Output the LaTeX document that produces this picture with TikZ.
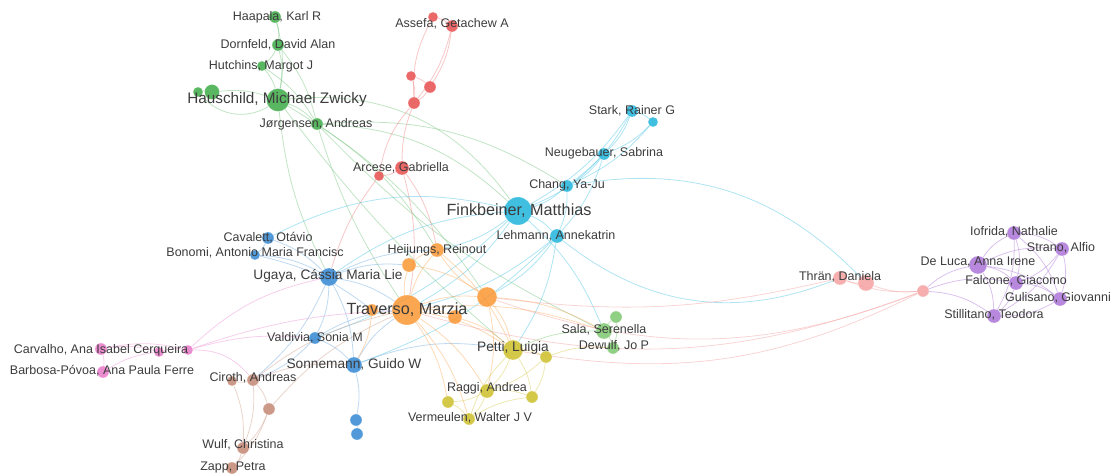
\documentclass[tikz,border=0pt]{standalone}
\usepackage{fontspec}
\setmainfont{Liberation Sans}
\usepackage{tikz}
\usetikzlibrary{backgrounds}

\definecolor{cgreen}{RGB}{60,170,70}
\definecolor{cred}{RGB}{232,78,78}
\definecolor{ccyan}{RGB}{30,180,220}
\definecolor{cblue}{RGB}{50,135,210}
\definecolor{corange}{RGB}{250,150,50}
\definecolor{cyellow}{RGB}{205,190,40}
\definecolor{clgreen}{RGB}{125,200,110}
\definecolor{cpink}{RGB}{232,120,200}
\definecolor{cbrown}{RGB}{195,135,115}
\definecolor{csalmon}{RGB}{245,160,160}
\definecolor{cpurple}{RGB}{170,115,215}
\definecolor{labelgray}{RGB}{60,60,60}

\newcommand{\smallname}{\fontsize{12.5}{14}\selectfont}
\newcommand{\midname}{\fontsize{13.7}{15}\selectfont}
\newcommand{\bigname}{\fontsize{16.2}{18}\selectfont}

\begin{document}
\begin{tikzpicture}[x=1pt,y=1pt]
    \tikzstyle{author}=[circle,inner sep=0pt,fill opacity=.85,draw=white,draw opacity=.5,line width=.4pt]
    \tikzstyle{authorname}=[inner sep=0pt,text=labelgray,font=\smallname]
    \tikzstyle{link}=[line width=.8pt,draw opacity=.45]
    \tikzstyle{glink}=[link,draw=cgreen!70]
    \tikzstyle{rlink}=[link,draw=cred!70]
    \tikzstyle{clink}=[link,draw=ccyan!80]
    \tikzstyle{blink}=[link,draw=cblue!70]
    \tikzstyle{olink}=[link,draw=corange!80]
    \tikzstyle{ylink}=[link,draw=cyellow!80]
    \tikzstyle{pklink}=[link,draw=cpink!80]
    \tikzstyle{brlink}=[link,draw=cbrown!80]
    \tikzstyle{slink}=[link,draw=csalmon]
    \tikzstyle{plink}=[link,draw=cpurple!80,draw opacity=.55]
    \useasboundingbox (0,0) rectangle (1112,-476);

    % green cluster
    \node[author,fill=cgreen,minimum size=12pt] (haapala) at (275,-17) {};
    \node[author,fill=cgreen,minimum size=12pt] (dornfeld) at (278,-45) {};
    \node[author,fill=cgreen,minimum size=10pt] (hutchins) at (262,-66) {};
    \node[author,fill=cgreen,minimum size=10pt] (gA) at (198,-92) {};
    \node[author,fill=cgreen,minimum size=15pt] (gB) at (212,-92) {};
    \node[author,fill=cgreen,minimum size=23pt] (hauschild) at (278,-100) {};
    \node[author,fill=cgreen,minimum size=12pt] (jorgensen) at (317,-124) {};
    % red cluster
    \node[author,fill=cred,minimum size=10pt] (assefaA) at (433,-17) {};
    \node[author,fill=cred,minimum size=12pt] (assefa) at (452,-26) {};
    \node[author,fill=cred,minimum size=10pt] (rA) at (411,-76) {};
    \node[author,fill=cred,minimum size=12pt] (rB) at (430,-87) {};
    \node[author,fill=cred,minimum size=12pt] (rC) at (414,-103) {};
    \node[author,fill=cred,minimum size=14pt] (arcese) at (402,-168) {};
    \node[author,fill=cred,minimum size=10pt] (rD) at (379,-176) {};
    % cyan cluster
    \node[author,fill=ccyan,minimum size=12pt] (stark) at (632,-111) {};
    \node[author,fill=ccyan,minimum size=10pt] (cA) at (653,-122) {};
    \node[author,fill=ccyan,minimum size=12pt] (neugebauer) at (604,-154) {};
    \node[author,fill=ccyan,minimum size=12pt] (chang) at (567,-186) {};
    \node[author,fill=ccyan,minimum size=28pt] (finkbeiner) at (518,-211) {};
    \node[author,fill=ccyan,minimum size=14pt] (lehmann) at (557,-236) {};
    % blue cluster
    \node[author,fill=cblue,minimum size=12pt] (cavalett) at (268,-238) {};
    \node[author,fill=cblue,minimum size=10pt] (bonomi) at (255,-255) {};
    \node[author,fill=cblue,minimum size=18pt] (ugaya) at (329,-277) {};
    \node[author,fill=cblue,minimum size=12pt] (valdivia) at (315,-338) {};
    \node[author,fill=cblue,minimum size=16pt] (sonnemann) at (354,-365) {};
    \node[author,fill=cblue,minimum size=12pt] (bA) at (356,-420) {};
    \node[author,fill=cblue,minimum size=12pt] (bB) at (357,-434) {};
    % orange cluster
    \node[author,fill=corange,minimum size=30pt] (traverso) at (407,-310) {};
    \node[author,fill=corange,minimum size=14pt] (heijungs) at (437,-250) {};
    \node[author,fill=corange,minimum size=14pt] (oA) at (409,-265) {};
    \node[author,fill=corange,minimum size=12pt] (oB) at (372,-310) {};
    \node[author,fill=corange,minimum size=14pt] (oC) at (455,-317) {};
    \node[author,fill=corange,minimum size=20pt] (oD) at (487,-297) {};
    % yellow cluster
    \node[author,fill=cyellow,minimum size=20pt] (petti) at (513,-350) {};
    \node[author,fill=cyellow,minimum size=12pt] (yA) at (546,-357) {};
    \node[author,fill=cyellow,minimum size=14pt] (raggi) at (487,-391) {};
    \node[author,fill=cyellow,minimum size=12pt] (yB) at (532,-397) {};
    \node[author,fill=cyellow,minimum size=12pt] (yC) at (448,-402) {};
    \node[author,fill=cyellow,minimum size=12pt] (vermeulen) at (469,-419) {};
    % light green cluster
    \node[author,fill=clgreen,minimum size=16pt] (sala) at (604,-331) {};
    \node[author,fill=clgreen,minimum size=12pt] (lgA) at (616,-317) {};
    \node[author,fill=clgreen,minimum size=12pt] (dewulf) at (613,-348) {};
    % pink cluster
    \node[author,fill=cpink,minimum size=12pt] (carvalho) at (101,-349) {};
    \node[author,fill=cpink,minimum size=10pt] (pA) at (159,-352) {};
    \node[author,fill=cpink,minimum size=10pt] (pB) at (188,-350) {};
    \node[author,fill=cpink,minimum size=12pt] (barbosa) at (103,-372) {};
    % brown cluster
    \node[author,fill=cbrown,minimum size=12pt] (ciroth) at (253,-380) {};
    \node[author,fill=cbrown,minimum size=10pt] (brA) at (232,-381) {};
    \node[author,fill=cbrown,minimum size=12pt] (brB) at (269,-409) {};
    \node[author,fill=cbrown,minimum size=12pt] (wulf) at (243,-448) {};
    \node[author,fill=cbrown,minimum size=12pt] (zapp) at (232,-468) {};
    % salmon cluster
    \node[author,fill=csalmon,minimum size=14pt] (thran) at (840,-278) {};
    \node[author,fill=csalmon,minimum size=16pt] (sA) at (866,-283) {};
    \node[author,fill=csalmon,minimum size=12pt] (sB) at (923,-291) {};
    % purple cluster
    \node[author,fill=cpurple,minimum size=18pt] (deluca) at (978,-265) {};
    \node[author,fill=cpurple,minimum size=14pt] (iofrida) at (1014,-233) {};
    \node[author,fill=cpurple,minimum size=14pt] (strano) at (1062,-249) {};
    \node[author,fill=cpurple,minimum size=14pt] (falcone) at (1016,-283) {};
    \node[author,fill=cpurple,minimum size=14pt] (gulisano) at (1060,-299) {};
    \node[author,fill=cpurple,minimum size=14pt] (stillitano) at (994,-316) {};

    % labels
    \node[authorname] (haapala-l) at (277,-17) {Haapala, Karl R};
    \node[authorname] (dornfeld-l) at (278,-45) {Dornfeld, David Alan};
    \node[authorname] (hutchins-l) at (261,-66) {Hutchins, Margot J};
    \node[authorname,font=\fontsize{15.3}{17}\selectfont] (hauschild-l) at (277,-100) {Hauschild, Michael Zwicky};
    \node[authorname] (jorgensen-l) at (316,-124) {Jørgensen, Andreas};
    \node[authorname] (assefa-l) at (452,-24) {Assefa, Getachew A};
    \node[authorname] (arcese-l) at (401,-168) {Arcese, Gabriella};
    \node[authorname] (stark-l) at (632,-111) {Stark, Rainer G};
    \node[authorname] (neugebauer-l) at (604,-153) {Neugebauer, Sabrina};
    \node[authorname] (chang-l) at (567,-185) {Chang, Ya-Ju};
    \node[authorname,font=\bigname] (finkbeiner-l) at (519,-211) {Finkbeiner, Matthias};
    \node[authorname] (lehmann-l) at (556,-236) {Lehmann, Annekatrin};
    \node[authorname] (cavalett-l) at (268,-238) {Cavalett, Otávio};
    \node[authorname] (bonomi-l) at (255,-253) {Bonomi, Antonio Maria Francisc};
    \node[authorname,font=\midname] (ugaya-l) at (328,-276) {Ugaya, Cássia Maria Lie};
    \node[authorname] (valdivia-l) at (315,-338) {Valdivia, Sonia M};
    \node[authorname,font=\midname] (sonnemann-l) at (354,-364) {Sonnemann, Guido W};
    \node[authorname] (heijungs-l) at (437,-250) {Heijungs, Reinout};
    \node[authorname,font=\bigname] (traverso-l) at (407,-310) {Traverso, Marzia};
    \node[authorname,font=\midname] (petti-l) at (513,-348) {Petti, Luigia};
    \node[authorname] (raggi-l) at (487,-388) {Raggi, Andrea};
    \node[authorname] (vermeulen-l) at (470,-418) {Vermeulen, Walter J V};
    \node[authorname] (sala-l) at (604,-330) {Sala, Serenella};
    \node[authorname] (dewulf-l) at (614,-346) {Dewulf, Jo P};
    \node[authorname] (carvalho-l) at (101,-350) {Carvalho, Ana Isabel Cerqueira};
    \node[authorname] (barbosa-l) at (102,-371) {Barbosa-Póvoa, Ana Paula Ferre};
    \node[authorname] (ciroth-l) at (253,-378) {Ciroth, Andreas};
    \node[authorname] (wulf-l) at (243,-445) {Wulf, Christina};
    \node[authorname] (zapp-l) at (233,-467) {Zapp, Petra};
    \node[authorname] (thran-l) at (840,-277) {Thrän, Daniela};
    \node[authorname] (deluca-l) at (978,-262) {De Luca, Anna Irene};
    \node[authorname] (iofrida-l) at (1014,-232) {Iofrida, Nathalie};
    \node[authorname] (strano-l) at (1061,-248) {Strano, Alfio};
    \node[authorname] (falcone-l) at (1016,-281) {Falcone, Giacomo};
    \node[authorname] (gulisano-l) at (1058,-298) {Gulisano, Giovanni};
    \node[authorname] (stillitano-l) at (994,-315) {Stillitano, Teodora};

    \begin{pgfonlayer}{background}
    % green links
    \foreach \a/\b in {haapala/dornfeld,dornfeld/hutchins,hutchins/hauschild,haapala/hauschild,dornfeld/hauschild,hutchins/jorgensen,dornfeld/jorgensen,hauschild/jorgensen,gA/gB,gB/hauschild,jorgensen/heijungs,hauschild/oD}
      \draw[glink] (\a) to[bend left=12] (\b);
    \draw[glink] (gA) to[bend right=40] (hauschild);
    \draw[glink] (hauschild) to[bend left=30] (finkbeiner);
    \draw[glink] (jorgensen) to[bend left=20] (finkbeiner);
    \draw[glink] (jorgensen) to[bend left=18] (chang);
    \draw[glink] (jorgensen) to[bend right=8] (traverso);
    \draw[glink] (hauschild) to[bend right=10] (ugaya);
    \draw[glink] (hauschild) to[bend right=6] (petti);
    \draw[glink] (jorgensen) to[bend right=10] (sala);
    % red links
    \foreach \a/\b in {assefaA/assefa,assefa/rB,assefa/rC,rA/rB,rA/rC,rB/rC,arcese/rD,arcese/heijungs,arcese/traverso}
      \draw[rlink] (\a) to[bend left=12] (\b);
    \draw[rlink] (assefaA) to[bend right=15] (rC);
    \draw[rlink] (rC) to[bend right=10] (arcese);
    \draw[rlink] (rC) to[bend right=15] (rD);
    \draw[rlink] (rD) to[bend right=10] (ugaya);
    % cyan links
    \foreach \a/\b in {stark/cA,stark/neugebauer,cA/neugebauer,stark/chang,cA/chang,neugebauer/chang,neugebauer/finkbeiner,chang/finkbeiner,finkbeiner/lehmann,chang/lehmann,neugebauer/lehmann,stark/finkbeiner,finkbeiner/traverso,finkbeiner/heijungs,lehmann/traverso,lehmann/petti,lehmann/oD,finkbeiner/sala,lehmann/sonnemann,finkbeiner/valdivia}
      \draw[clink] (\a) to[bend left=12] (\b);
    \draw[clink] (cavalett) to[bend left=20] (finkbeiner);
    \draw[clink] (ugaya) to[bend left=15] (finkbeiner);
    \draw[clink] (chang) to[bend left=28] (sA);
    \draw[clink] (lehmann) to[bend right=30] (thran);
    % blue links
    \foreach \a/\b in {cavalett/bonomi,cavalett/ugaya,bonomi/ugaya,ugaya/valdivia,ugaya/sonnemann,valdivia/sonnemann,sonnemann/bA,bA/bB,ugaya/traverso,ugaya/heijungs,ugaya/oA,sonnemann/traverso,valdivia/traverso,valdivia/ciroth,ugaya/ciroth,bonomi/oB}
      \draw[blink] (\a) to[bend left=12] (\b);
    \draw[blink] (sonnemann) to[bend left=15] (petti);
    % pink links
    \foreach \a/\b in {carvalho/pA,pA/pB,carvalho/barbosa,barbosa/pA,carvalho/pB}
      \draw[pklink] (\a) to[bend left=12] (\b);
    \draw[pklink] (pB) to[bend left=10] (valdivia);
    \draw[pklink] (pB) to[bend left=15] (ugaya);
    \draw[pklink] (pB) to[bend left=25] (ciroth);
    \draw[pklink] (pB) to[bend left=8] (traverso);
    % brown links
    \foreach \a/\b in {ciroth/brA,ciroth/brB,ciroth/wulf,brA/wulf,brB/wulf,wulf/zapp,brB/zapp,brB/traverso,ciroth/sonnemann,ciroth/traverso}
      \draw[brlink] (\a) to[bend left=12] (\b);
    % orange links
    \foreach \a/\b in {traverso/heijungs,traverso/oA,traverso/oB,traverso/oC,traverso/oD,oD/heijungs,oA/heijungs,oD/petti,traverso/petti,traverso/raggi,traverso/vermeulen,traverso/yC,oD/raggi,oD/sala,traverso/sala,oC/petti,oA/oD,heijungs/petti,oB/sonnemann}
      \draw[olink] (\a) to[bend left=12] (\b);
    \draw[slink] (oD) to[bend right=20] (sB);
    \draw[slink] (traverso) to[bend right=18] (sB);
    \draw[slink] (petti) to[bend right=18] (sB);
    \draw[slink] (oD) to[bend right=10] (thran);
    % yellow links
    \foreach \a/\b in {petti/yA,petti/raggi,petti/yB,raggi/yB,raggi/yC,raggi/vermeulen,yC/vermeulen,yA/yB,yA/raggi,vermeulen/petti,vermeulen/yB,yA/dewulf}
      \draw[ylink] (\a) to[bend left=12] (\b);
    % light green links
    \foreach \a/\b in {sala/lgA,sala/dewulf,lgA/dewulf,petti/sala}
      \draw[glink,draw=clgreen] (\a) to[bend left=12] (\b);
    % salmon and purple links
    \foreach \a/\b in {thran/sA,sA/sB,thran/sB}
      \draw[slink] (\a) to[bend right=12] (\b);
    \foreach \a/\b in {sB/deluca,sB/stillitano,sB/falcone,deluca/iofrida,deluca/strano,deluca/falcone,deluca/gulisano,deluca/stillitano,iofrida/strano,iofrida/falcone,iofrida/gulisano,iofrida/stillitano,strano/falcone,strano/gulisano,falcone/gulisano,falcone/stillitano,gulisano/stillitano,strano/stillitano}
      \draw[plink] (\a) to[bend left=15] (\b);
    \end{pgfonlayer}
\end{tikzpicture}
\end{document}
